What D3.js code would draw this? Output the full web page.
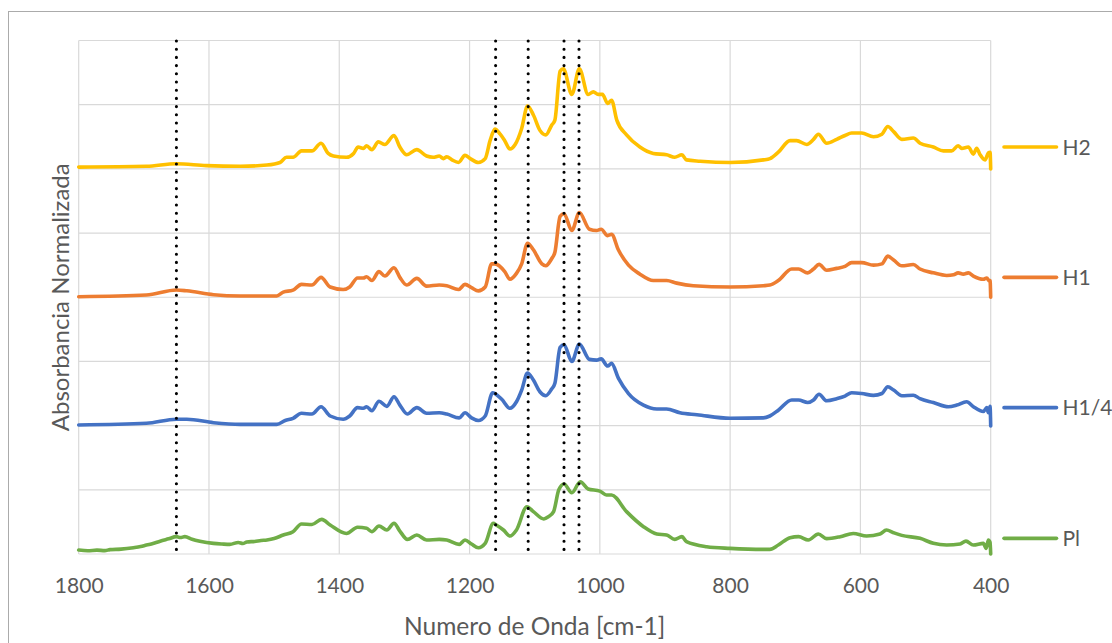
<!DOCTYPE html>
<html>
<head>
<meta charset="utf-8">
<script src="https://cdn.jsdelivr.net/npm/d3@7"></script>
<style>
  html, body { margin: 0; padding: 0; background: #fff; }
  svg { display: block; }
  text { font-family: Lato, "Open Sans", sans-serif; fill: #595959; }
</style>
</head>
<body>
<svg id="chart" width="1112" height="643"></svg>
<script>
// FTIR spectra, stacked with a vertical offset (wavenumber in cm-1, normalized absorbance)
const seriesNames = ["H2", "H1", "H1/4", "Pl"];
const seriesColors = ["#FFC000", "#ED7D31", "#4472C4", "#70AD47"];

const H2 = [
  [1800,3.014],[1696,3.02],[1650,3.04],[1604,3.025],[1552,3.02],[1511,3.03],[1491,3.05],[1481,3.09],
  [1471,3.09],[1458,3.14],[1442,3.14],[1428,3.20],[1417,3.12],[1409,3.10],[1389,3.09],[1378,3.12],
  [1371,3.17],[1363,3.16],[1358,3.18],[1350,3.15],[1340,3.21],[1330,3.19],[1316,3.26],[1307,3.17],
  [1296.5,3.11],[1281,3.15],[1266,3.10],[1256,3.09],[1246.5,3.10],[1240,3.08],[1235,3.095],[1227,3.07],
  [1217,3.05],[1207,3.105],[1199,3.08],[1186.5,3.05],[1176,3.08],[1168.5,3.22],[1161,3.31],[1153,3.27],
  [1146,3.22],[1138,3.155],[1130,3.19],[1120,3.315],[1111,3.49],[1102,3.42],[1092,3.30],[1083,3.265],
  [1074,3.34],[1069,3.38],[1061,3.76],[1056,3.78],[1043,3.58],[1031.5,3.78],[1018,3.58],[1010,3.60],
  [1002.5,3.58],[996,3.58],[988,3.51],[982,3.535],[974,3.38],[959,3.265],[938.5,3.17],[918,3.12],
  [897.5,3.11],[885,3.09],[874,3.11],[867,3.07],[846,3.06],[800,3.05],[749,3.07],[738.8,3.08],
  [726,3.13],[708,3.22],[698,3.22],[682.4,3.19],[672,3.23],[664.6,3.27],[651.8,3.20],[636.4,3.23],
  [623.7,3.26],[613.5,3.28],[598,3.28],[580,3.25],[567,3.27],[558,3.33],[549,3.29],[536.5,3.23],
  [518.8,3.24],[508.5,3.20],[488,3.17],[472.7,3.14],[460,3.14],[450,3.18],[444.5,3.16],[434.3,3.17],
  [426.6,3.115],[421.5,3.16],[416.3,3.11],[408.7,3.07],[403.6,3.125],[401,3.13],[400,3.0]
];

const H1 = [
  [1800,2.004],[1696,2.017],[1650,2.056],[1634,2.05],[1593,2.02],[1552,2.01],[1496,2.01],[1486,2.04],
  [1471,2.055],[1458,2.10],[1442,2.095],[1428,2.155],[1414,2.08],[1394,2.06],[1384,2.08],[1372,2.15],
  [1363,2.15],[1358,2.16],[1350,2.13],[1339,2.20],[1330,2.165],[1316,2.23],[1307,2.155],[1296.5,2.095],
  [1281,2.147],[1266,2.087],[1246.5,2.095],[1235,2.09],[1217,2.06],[1207,2.10],[1197,2.075],[1186.5,2.05],
  [1176,2.08],[1166,2.26],[1161,2.26],[1146,2.20],[1138,2.14],[1128,2.186],[1120,2.26],[1111,2.42],
  [1102,2.37],[1089,2.26],[1083,2.245],[1074,2.30],[1069,2.35],[1061,2.63],[1055,2.65],[1043,2.52],
  [1031.5,2.66],[1016,2.53],[1005,2.52],[998,2.53],[988,2.48],[982,2.49],[971.6,2.37],[956,2.25],
  [938.5,2.18],[918,2.13],[897.5,2.13],[882,2.11],[856.5,2.09],[800,2.08],[749,2.09],[739,2.095],
  [726,2.13],[705.5,2.22],[695,2.22],[681,2.19],[672,2.22],[663.5,2.256],[651.8,2.21],[636.4,2.225],
  [623.7,2.24],[613.5,2.27],[598,2.27],[580,2.25],[567,2.26],[558,2.32],[549,2.29],[536.5,2.245],
  [518.8,2.255],[508.5,2.22],[488,2.19],[467.5,2.17],[457,2.175],[450,2.19],[442,2.18],[434.3,2.19],
  [426.6,2.165],[411.3,2.14],[406,2.15],[402,2.126],[401,2.13],[400,2.0]
];

const H1_4 = [
  [1800,1.005],[1696,1.018],[1650,1.05],[1634,1.05],[1593,1.023],[1552,1.01],[1496,1.01],[1483,1.04],
  [1471,1.057],[1458,1.096],[1442,1.09],[1428,1.147],[1414,1.075],[1394,1.05],[1384,1.075],[1372,1.14],
  [1363,1.135],[1358,1.147],[1350,1.116],[1339,1.19],[1327,1.15],[1316,1.225],[1307,1.16],[1295.5,1.09],
  [1281,1.14],[1266,1.096],[1246.5,1.10],[1235,1.09],[1216,1.06],[1207,1.10],[1197,1.06],[1186.5,1.04],
  [1176,1.075],[1164.5,1.256],[1161,1.25],[1150.6,1.205],[1138,1.135],[1128,1.186],[1120,1.277],[1111,1.41],
  [1102,1.355],[1092,1.264],[1083,1.233],[1074,1.285],[1069,1.33],[1061,1.61],[1055,1.63],[1043,1.50],
  [1031.5,1.635],[1016,1.516],[1005,1.51],[998,1.52],[988,1.464],[982,1.485],[971.6,1.37],[956,1.25],
  [933,1.16],[912.5,1.13],[897.5,1.13],[877,1.10],[851,1.085],[800,1.057],[749,1.06],[739,1.075],
  [726,1.12],[705.5,1.20],[695,1.20],[681,1.18],[672,1.20],[663.5,1.244],[651.8,1.194],[636.4,1.21],
  [623.7,1.23],[613.5,1.256],[598,1.25],[580,1.236],[567,1.25],[558,1.303],[549,1.277],[536.5,1.233],
  [518.8,1.237],[508.5,1.21],[488,1.18],[465,1.147],[452,1.16],[437,1.186],[426.6,1.147],[411.3,1.11],
  [406,1.14],[403.6,1.10],[401,1.15],[400,0.997]
];

const Pl = [
  [1800,0.031],[1786,0.025],[1772,0.03],[1760,0.026],[1752,0.034],[1735,0.038],[1716,0.049],[1705,0.058],
  [1696,0.07],[1686,0.082],[1675,0.10],[1662,0.118],[1650,0.135],[1644,0.128],[1637,0.135],[1626,0.115],
  [1614,0.10],[1593,0.083],[1580,0.078],[1568,0.075],[1555,0.09],[1548,0.082],[1542,0.093],[1530,0.098],
  [1520,0.105],[1511,0.109],[1500,0.12],[1486,0.148],[1471,0.174],[1458,0.234],[1442,0.23],[1427,0.27],
  [1414,0.226],[1389,0.16],[1372,0.208],[1358,0.20],[1350,0.174],[1339,0.218],[1327,0.187],[1316,0.239],
  [1307,0.179],[1295.5,0.114],[1281,0.148],[1266,0.109],[1246.5,0.114],[1235,0.109],[1216,0.075],[1207,0.109],
  [1197,0.078],[1186.5,0.049],[1176,0.083],[1163.5,0.239],[1159,0.226],[1148,0.187],[1138,0.14],[1128,0.187],
  [1112,0.368],[1102,0.33],[1086,0.273],[1079,0.29],[1071,0.33],[1063,0.50],[1055,0.545],[1043,0.477],
  [1030,0.563],[1018,0.506],[1000,0.49],[990,0.46],[982,0.46],[959,0.33],[933,0.213],[912.5,0.156],
  [897.5,0.148],[885,0.114],[874,0.135],[867,0.096],[836,0.057],[800,0.044],[749,0.036],[739,0.036],
  [726,0.07],[708,0.127],[695,0.135],[680,0.109],[664.6,0.156],[651.8,0.12],[631,0.135],[611,0.16],
  [590.5,0.14],[570,0.156],[560,0.187],[549,0.166],[536.5,0.145],[508.5,0.122],[488,0.083],[467.5,0.07],
  [447,0.078],[438,0.10],[426.6,0.07],[411.3,0.083],[407,0.044],[403.6,0.109],[401,0.09],[400,0.0]
];

const seriesData = [H2, H1, H1_4, Pl];

// reference band positions marked with dotted lines
const markerBands = [1650, 1160, 1110, 1055, 1032];

const xTicks = [1800, 1600, 1400, 1200, 1000, 800, 600, 400];
const yGrid = [0, 0.5, 1, 1.5, 2, 2.5, 3, 3.5, 4];
const legendLevels = [3.17, 2.155, 1.14, 0.122];

const svg = d3.select("#chart");
const W = 1112, H = 643;
const plot = { left: 78.7, right: 990.7, top: 40.5, bottom: 554 };

// outer chart frame
svg.append("rect")
  .attr("x", 8.5).attr("y", 11.5)
  .attr("width", W + 20).attr("height", H + 20)
  .attr("fill", "#fff").attr("stroke", "#ababab").attr("stroke-width", 1);

const x = d3.scaleLinear().domain([1800, 400]).range([plot.left, plot.right]);
const y = d3.scaleLinear().domain([0, 4]).range([plot.bottom, plot.top]);

// gridlines
const grid = svg.append("g").attr("stroke", "#d9d9d9").attr("stroke-width", 1.2);
grid.selectAll("line.v").data(xTicks).join("line")
  .attr("x1", d => x(d)).attr("x2", d => x(d))
  .attr("y1", plot.top).attr("y2", plot.bottom);
grid.selectAll("line.h").data(yGrid).join("line")
  .attr("x1", plot.left).attr("x2", plot.right)
  .attr("y1", d => y(d)).attr("y2", d => y(d));

// x axis tick labels
const xAxis = d3.axisBottom(x).tickValues(xTicks).tickFormat(d3.format("d"))
  .tickSize(0).tickPadding(0);
const gx = svg.append("g").attr("transform", `translate(0,${plot.bottom})`).call(xAxis);
gx.select(".domain").remove();
gx.selectAll("text")
  .attr("dy", null).attr("y", 39)
  .style("font-family", "Lato, sans-serif").style("font-size", "21px").attr("fill", "#595959");

// spectra
const line = d3.line().x(d => x(d[0])).y(d => y(d[1])).curve(d3.curveMonotoneX);
svg.append("g").selectAll("path").data(seriesData).join("path")
  .attr("d", line)
  .attr("fill", "none")
  .attr("stroke", (d, i) => seriesColors[i])
  .attr("stroke-width", 3.6)
  .attr("stroke-linejoin", "round")
  .attr("stroke-linecap", "round");

// dotted band markers
svg.append("g").selectAll("line").data(markerBands).join("line")
  .attr("x1", d => x(d)).attr("x2", d => x(d))
  .attr("y1", y(4) + 0.5).attr("y2", y(0))
  .attr("stroke", "#000").attr("stroke-width", 3.1)
  .attr("stroke-linecap", "round").attr("stroke-dasharray", "0 8.2");

// legend
const legend = svg.append("g").selectAll("g").data(seriesNames).join("g")
  .attr("transform", (d, i) => `translate(0,${y(legendLevels[i])})`);
legend.append("line")
  .attr("x1", 1004).attr("x2", 1056.5).attr("y1", 0).attr("y2", 0)
  .attr("stroke", (d, i) => seriesColors[i]).attr("stroke-width", 3.6)
  .attr("stroke-linecap", "round");
legend.append("text")
  .attr("x", 1062.5).attr("y", 7.8)
  .style("font-size", "21px")
  .text(d => d);

// axis titles
svg.append("text")
  .attr("x", (plot.left + plot.right) / 2).attr("y", 635)
  .attr("text-anchor", "middle").style("font-size", "24.5px")
  .text("Numero de Onda [cm-1]");
svg.append("text")
  .attr("transform", `translate(69,${(plot.top + plot.bottom) / 2}) rotate(-90)`)
  .attr("text-anchor", "middle").style("font-size", "24px")
  .text("Absorbancia Normalizada");
</script>
</body>
</html>
